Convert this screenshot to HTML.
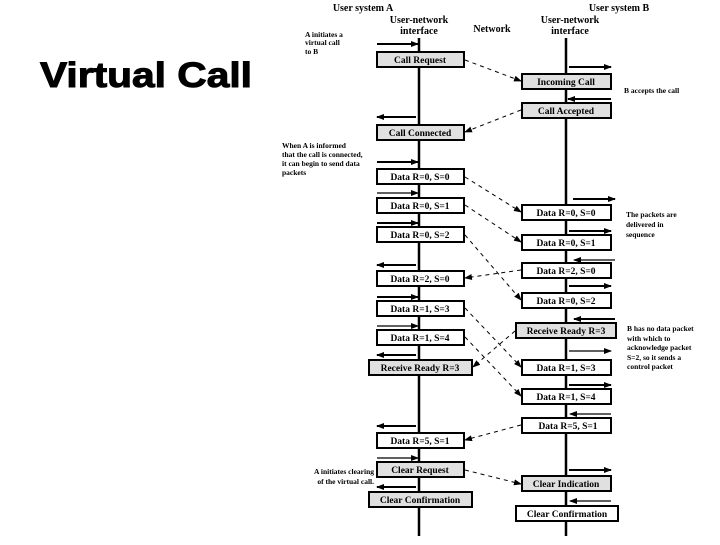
<!DOCTYPE html>
<html><head><style>
body{margin:0;background:#fff;width:720px;height:540px;overflow:hidden}
svg text{font-family:"Liberation Serif",serif;}
</style></head><body>
<svg width="720" height="540" viewBox="0 0 720 540" xmlns="http://www.w3.org/2000/svg">
<defs>
<marker id="a" markerWidth="8" markerHeight="6" refX="7" refY="3" orient="auto" markerUnits="userSpaceOnUse"><path d="M0,0 L8,3 L0,6z" fill="#000"/></marker>
</defs>
<text x="40" y="87" style="font-family:'Liberation Sans',sans-serif" font-weight="bold" font-size="35" textLength="212" lengthAdjust="spacingAndGlyphs" stroke="#000" stroke-width="1">Virtual Call</text>
<g font-size="10" font-weight="bold" text-anchor="middle">
<text x="363" y="11">User system A</text>
<text x="419" y="23">User-network</text><text x="419" y="34">interface</text>
<text x="492" y="32">Network</text>
<text x="619" y="11">User system B</text>
<text x="570" y="23">User-network</text><text x="570" y="34">interface</text>
</g>
<g font-size="7.5" font-weight="bold">
<text x="305" y="37">A initiates a</text><text x="305" y="45">virtual call</text><text x="305" y="54">to B</text>
<text x="624" y="93">B accepts the call</text>
<text x="282" y="148">When A is informed</text><text x="282" y="157">that the call is connected,</text><text x="282" y="166">it can begin to send data</text><text x="282" y="175">packets</text>
<text x="626" y="217">The packets are</text><text x="626" y="227">delivered in</text><text x="626" y="237">sequence</text>
<text x="627" y="331">B has no data packet</text><text x="627" y="341">with which to</text><text x="627" y="350">acknowledge packet</text><text x="627" y="360">S=2, so it sends a</text><text x="627" y="369">control packet</text>
<text x="374" y="474" text-anchor="end">A initiates clearing</text><text x="374" y="484" text-anchor="end">of the virtual call.</text>
</g>
<line x1="419" y1="38" x2="419" y2="536" stroke="#000" stroke-width="2.5"/>
<line x1="566" y1="38" x2="566" y2="536" stroke="#000" stroke-width="2.5"/>
<g stroke="#000" stroke-width="2" marker-end="url(#a)">
<line x1="377" y1="44" x2="418" y2="44"/>
<line x1="416" y1="117" x2="377" y2="117"/>
<line x1="377" y1="162" x2="418" y2="162"/>
<line x1="377" y1="193" x2="418" y2="193" stroke-width="1.2"/>
<line x1="377" y1="223" x2="418" y2="223"/>
<line x1="416" y1="265" x2="377" y2="265"/>
<line x1="377" y1="297" x2="418" y2="297"/>
<line x1="377" y1="326" x2="418" y2="326" stroke-width="1.2"/>
<line x1="416" y1="355" x2="377" y2="355"/>
<line x1="416" y1="426" x2="377" y2="426"/>
<line x1="377" y1="458" x2="418" y2="458" stroke-width="1.2"/>
<line x1="416" y1="487" x2="377" y2="487"/>
<line x1="569" y1="67" x2="611" y2="67"/>
<line x1="611" y1="99" x2="568" y2="99"/>
<line x1="573" y1="199" x2="615" y2="199"/>
<line x1="569" y1="231" x2="611" y2="231"/>
<line x1="615" y1="260" x2="574" y2="260" stroke-width="1.2"/>
<line x1="569" y1="286" x2="611" y2="286"/>
<line x1="615" y1="319" x2="574" y2="319"/>
<line x1="569" y1="351" x2="611" y2="351" stroke-width="1.2"/>
<line x1="569" y1="385" x2="611" y2="385"/>
<line x1="611" y1="414" x2="570" y2="414" stroke-width="1.2"/>
<line x1="569" y1="470" x2="611" y2="470"/>
<line x1="611" y1="501" x2="570" y2="501" stroke-width="1.2"/>
</g>
<g stroke="#000" stroke-width="1" stroke-dasharray="4,4" fill="none" marker-end="url(#a)">
<line x1="465" y1="60" x2="521" y2="81"/>
<line x1="521" y1="110" x2="465" y2="132"/>
<line x1="465" y1="177" x2="521" y2="212"/>
<line x1="465" y1="205" x2="521" y2="242"/>
<line x1="465" y1="235" x2="521" y2="300"/>
<line x1="521" y1="270" x2="465" y2="278"/>
<line x1="465" y1="308" x2="521" y2="367"/>
<line x1="465" y1="337" x2="521" y2="396"/>
<line x1="515" y1="331" x2="473" y2="367"/>
<line x1="521" y1="425" x2="465" y2="440"/>
<line x1="465" y1="470" x2="521" y2="484"/>
</g>
<g stroke="#000" stroke-width="2">
<rect x="377" y="52" width="87" height="15" fill="#e0e0e0"/>
<rect x="377" y="125" width="87" height="15" fill="#e0e0e0"/>
<rect x="377" y="169" width="87" height="15" fill="#fff"/>
<rect x="377" y="198" width="87" height="15" fill="#fff"/>
<rect x="377" y="227" width="87" height="15" fill="#fff"/>
<rect x="377" y="271" width="87" height="15" fill="#fff"/>
<rect x="377" y="301" width="87" height="15" fill="#fff"/>
<rect x="377" y="330" width="87" height="15" fill="#fff"/>
<rect x="369" y="360" width="103" height="15" fill="#e0e0e0"/>
<rect x="377" y="433" width="87" height="15" fill="#fff"/>
<rect x="377" y="462" width="87" height="15" fill="#e0e0e0"/>
<rect x="369" y="492" width="103" height="15" fill="#e0e0e0"/>
<rect x="522" y="74" width="89" height="15" fill="#e0e0e0"/>
<rect x="522" y="103" width="89" height="15" fill="#e0e0e0"/>
<rect x="522" y="205" width="89" height="15" fill="#fff"/>
<rect x="522" y="235" width="89" height="15" fill="#fff"/>
<rect x="522" y="263" width="89" height="15" fill="#fff"/>
<rect x="522" y="293" width="89" height="15" fill="#fff"/>
<rect x="516" y="323" width="100" height="15" fill="#e0e0e0"/>
<rect x="522" y="360" width="89" height="15" fill="#fff"/>
<rect x="522" y="389" width="89" height="15" fill="#fff"/>
<rect x="522" y="418" width="89" height="15" fill="#fff"/>
<rect x="522" y="476" width="89" height="15" fill="#e0e0e0"/>
<rect x="516" y="506" width="102" height="15" fill="#fff"/>
</g>
<g font-size="9.5" font-weight="bold" text-anchor="middle">
<text x="420" y="63">Call Request</text>
<text x="420" y="136">Call Connected</text>
<text x="420" y="180">Data R=0, S=0</text>
<text x="420" y="209">Data R=0, S=1</text>
<text x="420" y="238">Data R=0, S=2</text>
<text x="420" y="282">Data R=2, S=0</text>
<text x="420" y="312">Data R=1, S=3</text>
<text x="420" y="341">Data R=1, S=4</text>
<text x="420" y="371">Receive Ready R=3</text>
<text x="420" y="444">Data R=5, S=1</text>
<text x="420" y="473">Clear Request</text>
<text x="420" y="503">Clear Confirmation</text>
<text x="566" y="85">Incoming Call</text>
<text x="566" y="114">Call Accepted</text>
<text x="566" y="216">Data R=0, S=0</text>
<text x="566" y="246">Data R=0, S=1</text>
<text x="566" y="274">Data R=2, S=0</text>
<text x="566" y="304">Data R=0, S=2</text>
<text x="566" y="334">Receive Ready R=3</text>
<text x="566" y="371">Data R=1, S=3</text>
<text x="566" y="400">Data R=1, S=4</text>
<text x="568" y="429">Data R=5, S=1</text>
<text x="566" y="487">Clear Indication</text>
<text x="567" y="517">Clear Confirmation</text>
</g>
</svg>
</body></html>
